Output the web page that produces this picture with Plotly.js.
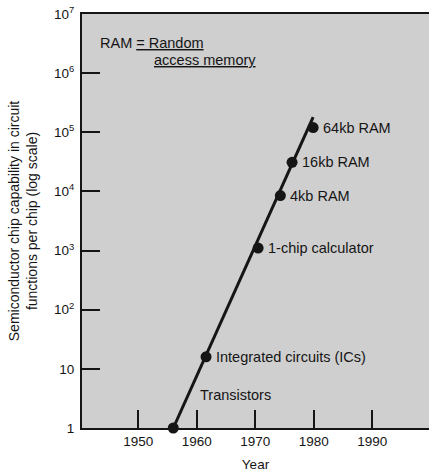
<!DOCTYPE html>
<html>
<head>
<meta charset="utf-8">
<script src="https://cdn.plot.ly/plotly-3.0.1.min.js"></script>
<style>html,body{margin:0;padding:0;background:#fff}#chart{width:429px;height:472px}</style>
</head>
<body>
<div id="chart"></div>
<script>
// Data
const milestoneNames = ["Transistors", "Integrated circuits (ICs)", "1-chip calculator", "4kb RAM", "16kb RAM", "64kb RAM"];
const milestoneYears = [1956, 1961.6, 1970.5, 1974.3, 1976.3, 1979.9];
const milestoneFunctions = [1, 16, 1100, 8500, 31000, 120000];
const trendYears = [1956, 1979.9];
const trendFunctions = [1, 180000];
const xTickVals = [1950, 1960, 1970, 1980, 1990];
const yTickVals = [1, 10, 100, 1000, 10000, 100000, 1000000, 10000000];
const yTickText = ["1", "10", "10<sup>2</sup>", "10<sup>3</sup>", "10<sup>4</sup>", "10<sup>5</sup>", "10<sup>6</sup>", "10<sup>7</sup>"];

const FONT = "Liberation Sans, Arial, sans-serif";
const INK = "#151515";
const LABEL_SIZE = 14.5;

const traces = [
  {x: trendYears, y: trendFunctions, mode: "lines", type: "scatter",
   line: {color: INK, width: 3}, hoverinfo: "skip", showlegend: false},
  {x: milestoneYears, y: milestoneFunctions, mode: "markers", type: "scatter",
   marker: {color: INK, size: 11}, showlegend: false, cliponaxis: false}
];

const annotations = milestoneNames.map((name, i) => {
  if (i === 0) {
    return {x: milestoneYears[i], y: Math.log10(milestoneFunctions[i]), xref: "x", yref: "y",
      text: name, showarrow: false, xanchor: "left", yanchor: "middle",
      xshift: 25, yshift: 33, font: {family: FONT, size: LABEL_SIZE, color: INK}};
  }
  return {x: milestoneYears[i], y: Math.log10(milestoneFunctions[i]), xref: "x", yref: "y",
    text: name, showarrow: false, xanchor: "left", yanchor: "middle",
    xshift: 8, yshift: 0, font: {family: FONT, size: LABEL_SIZE, color: INK}};
});
annotations.push({
  x: 16 / 347, y: 1 - 29 / 414, xref: "paper", yref: "paper", xanchor: "left", yanchor: "middle",
  text: "RAM <span style=\"text-decoration:underline\">= Random</span>", showarrow: false,
  font: {family: FONT, size: LABEL_SIZE, color: INK}
});
annotations.push({
  x: 70 / 347, y: 1 - 46 / 414, xref: "paper", yref: "paper", xanchor: "left", yanchor: "middle",
  text: "<span style=\"text-decoration:underline\">access memory</span>", showarrow: false,
  font: {family: FONT, size: LABEL_SIZE, color: INK}
});

const layout = {
  width: 429, height: 472,
  margin: {l: 82, r: 0, t: 14, b: 44, pad: 0},
  paper_bgcolor: "#ffffff",
  plot_bgcolor: "#cfcfcf",
  font: {family: FONT, size: 13, color: INK},
  xaxis: {
    range: [1940.4, 1999.7], tickvals: xTickVals, ticktext: xTickVals.map(String),
    ticks: "inside", ticklen: 18, tickwidth: 2, tickcolor: INK,
    showline: true, linecolor: INK, linewidth: 2, mirror: true,
    showgrid: false, zeroline: false,
    tickfont: {family: FONT, size: 13.5, color: INK},
    title: {text: "Year", font: {family: FONT, size: 13.5, color: INK}, standoff: 11}
  },
  yaxis: {
    type: "log", range: [0, 7], tickvals: yTickVals, ticktext: yTickText,
    ticks: "inside", ticklen: 18, tickwidth: 2, tickcolor: INK,
    showline: true, linecolor: INK, linewidth: 2,
    showgrid: false, zeroline: false, ticklabelstandoff: 3,
    tickfont: {family: FONT, size: 13.5, color: INK},
    title: {text: "Semiconductor chip capability in circuit<br>functions per chip (log scale)",
            font: {family: FONT, size: 14, color: INK}, standoff: 13}
  },
  annotations: annotations,
  showlegend: false
};

Plotly.newPlot("chart", traces, layout, {displayModeBar: false, staticPlot: true});
</script>
</body>
</html>
